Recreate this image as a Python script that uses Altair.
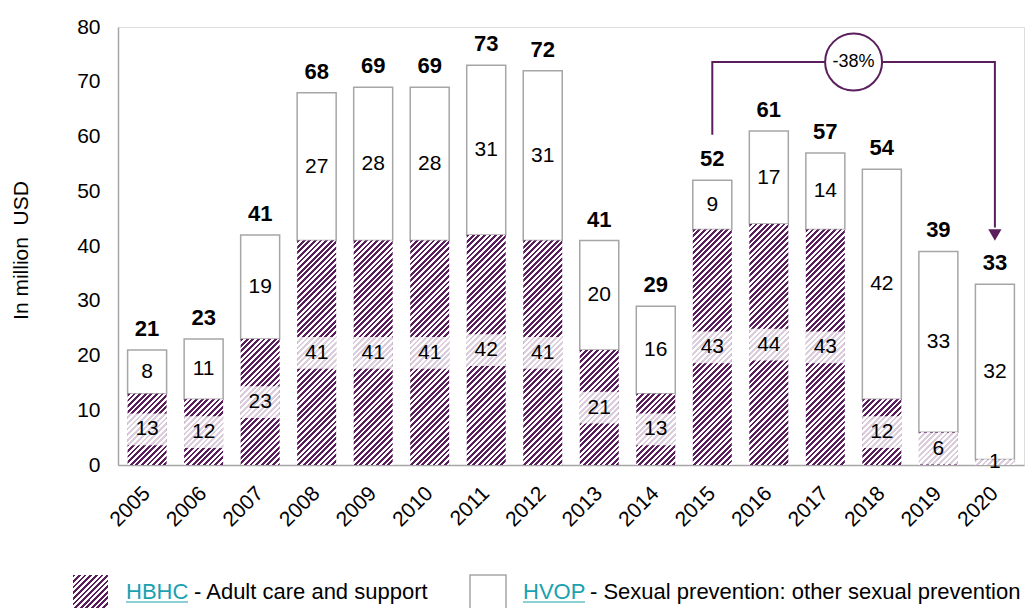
import altair as alt
import pandas as pd

# ---------------- data ----------------
years = [str(y) for y in range(2005, 2021)]
hbhc = [13, 12, 23, 41, 41, 41, 42, 41, 21, 13, 43, 44, 43, 12, 6, 1]
hvop = [8, 11, 19, 27, 28, 28, 31, 31, 20, 16, 9, 17, 14, 42, 33, 32]
totals = [21, 23, 41, 68, 69, 69, 73, 72, 41, 29, 52, 61, 57, 54, 39, 33]

bracket_years = ["2015", "2015", "2020", "2020"]
bracket_vals = [60.3, 73.6, 73.6, 43.4]
arrow_val = 42.0
change_label = "-38%"

legend_labels = ["HBHC", "- Adult care and support",
                 "HVOP", "- Sexual prevention: other sexual prevention"]

# ---------------- style ----------------
PURPLE = "#5b1e5d"
GRAY = "#a6a6a6"
TEAL = "#1aa1b0"
FONT = "Liberation Sans"

W, H = 906, 438
LEFT, TOP = 118, 27
YMAX = 80
PAD_IN, PAD_OUT = 0.31, 0.17
step = W / (len(years) - PAD_IN + 2 * PAD_OUT)
bw = step * (1 - PAD_IN)
ppu = H / YMAX


def hatch(w, h, period=5.6, dark=PURPLE, light="white"):
    w = max(w, 0.5)
    h = max(h, 0.5)
    L = w + h
    k = L / (w * w + h * h)
    stops = []
    j = 0
    while j * period < L:
        a = round(j * period / L, 5)
        b = round(min((j + 0.5) * period / L, 1), 5)
        c = round(min((j + 1) * period / L, 1), 5)
        stops += [alt.GradientStop(offset=a, color=dark),
                  alt.GradientStop(offset=b, color=dark),
                  alt.GradientStop(offset=b, color=light),
                  alt.GradientStop(offset=c, color=light)]
        j += 1
    return alt.LinearGradient(gradient="linear", stops=stops,
                              x1=0, y1=0, x2=round(w * k, 5), y2=round(h * k, 5))


BOX = 2.9
df = pd.DataFrame({
    "year": years,
    "hbhc": hbhc,
    "hvop": hvop,
    "total": totals,
})
df["zero"] = 0
df["top"] = df["hbhc"] + df["hvop"]
df["mid_h"] = df["hbhc"] / 2
df["mid_v"] = df["hbhc"] + df["hvop"] / 2
df["box_lo"] = (df["mid_h"] - BOX).clip(lower=0)
df["box_hi"] = pd.concat([df["mid_h"] + BOX, df["hbhc"]], axis=1).min(axis=1)

yscale = alt.Scale(domain=[0, YMAX], nice=False, zero=True)
xscale = alt.Scale(paddingInner=PAD_IN, paddingOuter=PAD_OUT)

X = alt.X("year:N", sort=years, scale=xscale,
          axis=alt.Axis(title=None, labelAngle=-45, labelAlign="right",
                        labelBaseline="middle", ticks=False, grid=False,
                        domainColor=GRAY, domainWidth=1.5, labelFontSize=21,
                        labelFont=FONT, labelColor="black", labelPadding=25))

base = alt.Chart(df)

hvop_bars = base.mark_bar(fill="white", stroke=GRAY, strokeWidth=1.5).encode(
    x=X,
    y=alt.Y("hbhc:Q", scale=yscale,
            axis=alt.Axis(values=list(range(0, 81, 10)), ticks=False, grid=False,
                          domainColor=GRAY, domainWidth=1.5, labelFontSize=21,
                          labelFont=FONT, labelColor="black", labelPadding=18,
                          title="In million\u00a0 USD", titleFontSize=21,
                          titleFont=FONT, titleFontWeight="normal", titleColor="black",
                          titleAngle=-90, titleX=-97, titleY=223,
                          titleAlign="center", titleBaseline="middle")),
    y2="top:Q",
)

layers = [hvop_bars]
for i, yr in enumerate(years):
    layers.append(
        base.transform_filter(alt.datum.year == yr)
        .mark_bar(fill=hatch(bw, hbhc[i] * ppu), strokeWidth=0)
        .encode(x=X, y=alt.Y("zero:Q", scale=yscale), y2="hbhc:Q")
    )

boxes = base.mark_bar(fill="white", opacity=0.78, strokeWidth=0).encode(
    x=X, y=alt.Y("box_lo:Q", scale=yscale), y2="box_hi:Q")

txt_h = base.mark_text(font=FONT, fontSize=21, color="black", baseline="middle").encode(
    x=X, y=alt.Y("mid_h:Q", scale=yscale), text="hbhc:Q")
txt_v = base.mark_text(font=FONT, fontSize=21, color="black", baseline="middle").encode(
    x=X, y=alt.Y("mid_v:Q", scale=yscale), text="hvop:Q")
txt_t = base.mark_text(font=FONT, fontSize=22, fontWeight="bold", color="black",
                       baseline="middle", dy=-21).encode(
    x=X, y=alt.Y("top:Q", scale=yscale), text="total:Q")

layers += [boxes, txt_h, txt_v, txt_t]

# ---------------- annotation ----------------
br = pd.DataFrame({"year": bracket_years, "val": bracket_vals,
                   "ord": list(range(len(bracket_years)))})
bracket = alt.Chart(br).mark_line(color=PURPLE, strokeWidth=2).encode(
    x=X, y=alt.Y("val:Q", scale=yscale), order="ord:Q")
arrow = alt.Chart(pd.DataFrame({"year": ["2020"], "val": [arrow_val]})).mark_point(
    shape="triangle-down", filled=True, color=PURPLE, size=175, opacity=1).encode(
    x=X, y=alt.Y("val:Q", scale=yscale))
circ_df = pd.DataFrame({"year": ["2017"], "val": [bracket_vals[1]], "lab": [change_label]})
circle = alt.Chart(circ_df).mark_circle(
    size=3249, fill="white", stroke=PURPLE, strokeWidth=2, opacity=1,
    xOffset=step / 2).encode(x=X, y=alt.Y("val:Q", scale=yscale))
circle_txt = alt.Chart(circ_df).mark_text(
    font=FONT, fontSize=18, color="black", baseline="middle", xOffset=step / 2).encode(
    x=X, y=alt.Y("val:Q", scale=yscale), text="lab:N")

layers += [bracket, arrow, circle, circle_txt]

# ---------------- legend ----------------
one = alt.Chart(pd.DataFrame({"d": [0]}))
leg_y = 599 - TOP
sw1 = one.mark_rect(fill=hatch(35, 36)).encode(
    x=alt.value(73 - LEFT), x2=alt.value(108 - LEFT),
    y=alt.value(575 - TOP), y2=alt.value(611 - TOP))
sw2 = one.mark_rect(fill="white", stroke=GRAY, strokeWidth=1.5).encode(
    x=alt.value(470 - LEFT), x2=alt.value(506 - LEFT),
    y=alt.value(575 - TOP), y2=alt.value(611 - TOP))


def ltext(x, s, color):
    return one.mark_text(font=FONT, fontSize=22, color=color, align="left",
                         baseline="alphabetic", text=s).encode(
        x=alt.value(x - LEFT), y=alt.value(leg_y))


def uline(x0, x1):
    return one.mark_rule(color=TEAL, strokeWidth=1.2).encode(
        x=alt.value(x0 - LEFT), x2=alt.value(x1 - LEFT), y=alt.value(leg_y + 3))


layers += [sw1, sw2,
           ltext(126, legend_labels[0], TEAL), uline(126, 188),
           ltext(194, legend_labels[1], "black"),
           ltext(523, legend_labels[2], TEAL), uline(523, 585),
           ltext(590, legend_labels[3], "black")]

chart = alt.layer(*layers).properties(
    width=W, height=H,
    autosize=alt.AutoSizeParams(type="none"),
    padding={"left": LEFT, "top": TOP, "right": 1027 - LEFT - W, "bottom": 608 - TOP - H},
).configure_view(stroke=None).configure(background="white")

chart.save("out.html", embed_options={"renderer": "svg", "actions": False})
